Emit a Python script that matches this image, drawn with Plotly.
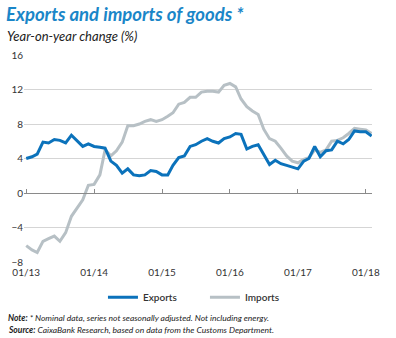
import plotly.graph_objects as go
import pandas as pd

months = pd.date_range("2013-01-01", periods=62, freq="MS")

exports = [4.0, 4.2, 4.5, 5.9, 5.8, 6.2, 6.1, 5.8, 6.7, 6.0, 5.4, 5.7,
           5.4, 5.3, 5.2, 3.7, 3.2, 2.3, 2.8, 2.1, 2.0, 2.1, 2.6, 2.5,
           2.1, 2.1, 3.2, 4.1, 4.3, 5.4, 5.6, 6.0, 6.3, 6.0, 5.8, 6.3,
           6.5, 6.9, 6.8, 5.1, 5.4, 5.6, 4.5, 3.3, 3.8, 3.4, 3.2, 3.0,
           2.8, 3.7, 4.0, 5.4, 4.2, 4.9, 5.0, 6.0, 5.7, 6.2, 7.2, 7.1,
           7.1, 6.6]

imports = [-6.1, -6.6, -6.9, -5.6, -5.3, -5.0, -5.6, -4.6, -2.7, -1.7, -0.8, 0.9,
           1.0, 2.1, 5.0, 4.3, 4.9, 5.9, 7.8, 7.8, 8.0, 8.3, 8.5, 8.3,
           8.5, 8.9, 9.3, 10.3, 10.5, 11.1, 11.1, 11.7, 11.8, 11.8, 11.7, 12.5,
           12.7, 12.3, 10.9, 10.0, 9.5, 9.1, 7.4, 6.3, 6.0, 5.2, 4.3, 3.7,
           3.5, 3.9, 4.1, 5.0, 4.7, 5.0, 6.0, 6.1, 6.4, 6.9, 7.5, 7.4,
           7.3, 6.9]

tick_dates = ["2013-01-01", "2014-01-01", "2015-01-01", "2016-01-01", "2017-01-01", "2018-01-01"]
tick_labels = ["01/13", "01/14", "01/15", "01/16", "01/17", "01/18"]
y_ticks = [-8, -4, 0, 4, 8, 12, 16]

BLUE = "#0b72bb"
GRAY = "#b7c0c5"
FONT = "Lato"

fig = go.Figure()
fig.add_trace(go.Scatter(x=months, y=imports, name="Imports", mode="lines",
                         line=dict(color=GRAY, width=3), legendrank=2))
fig.add_trace(go.Scatter(x=months, y=exports, name="Exports", mode="lines",
                         line=dict(color=BLUE, width=3), legendrank=1))

xr = ["2012-12-20", "2018-02-03"]

fig.update_layout(
    width=396, height=338,
    margin=dict(l=24, r=24, t=55, b=76),
    paper_bgcolor="white", plot_bgcolor="white",
    font=dict(family=FONT, color="#333333", size=10),
    showlegend=True,
    legend=dict(orientation="h", x=0.52, xanchor="center", y=-0.17, yanchor="middle",
                traceorder="normal", font=dict(size=10, color="#333333", weight=600),
                entrywidth=57, entrywidthmode="pixels", tracegroupgap=0),
    xaxis=dict(type="date", range=xr, tickmode="array", tickvals=tick_dates,
               ticktext=tick_labels, showgrid=False, zeroline=False, showline=False,
               ticks="", ticklabelstandoff=3, tickfont=dict(size=10, color="#333333")),
    xaxis2=dict(type="date", range=xr, overlaying="x", anchor="free", position=1/3,
                side="top", showline=True, linecolor="#8a8a8a", linewidth=1.3,
                tickmode="array", tickvals=tick_dates, showticklabels=False,
                ticks="outside", ticklen=4, tickcolor="#8a8a8a", showgrid=False,
                zeroline=False),
    yaxis=dict(range=[-8, 16], tickmode="array", tickvals=y_ticks,
               showgrid=True, gridcolor="#d5d5d5", gridwidth=1, zeroline=False,
               showline=False, ticks="", tickfont=dict(size=10, color="#333333")),
)

# invisible trace to activate xaxis2 (zero line with year ticks)
fig.add_trace(go.Scatter(x=[months[0]], y=[0], xaxis="x2", mode="lines",
                         showlegend=False, hoverinfo="skip",
                         line=dict(color="rgba(0,0,0,0)")))

fig.add_annotation(text="<b><i>Exports and imports of goods *</i></b>", xref="paper", yref="paper",
                   x=-20/348, y=1 + (55 - 14) / 207, xanchor="left", yanchor="middle",
                   showarrow=False, font=dict(size=18.5, color="#1a86c8", family=FONT))
fig.add_annotation(text="<i>Year-on-year change (%)</i>", xref="paper", yref="paper",
                   x=-19/348, y=1 + (55 - 36) / 207, xanchor="left", yanchor="middle",
                   showarrow=False, font=dict(size=13, color="#222222", family=FONT))
fig.add_annotation(text="<b><i>Note:</i></b><i> * Nominal data, series not seasonally adjusted. Not including energy.</i>",
                   xref="paper", yref="paper", x=-18/348, y=-(318 - 262) / 207,
                   xanchor="left", yanchor="middle", showarrow=False,
                   font=dict(size=8.5, color="#222222", family=FONT))
fig.add_annotation(text="<b><i>Source:</i></b><i> CaixaBank Research, based on data from the Customs Department.</i>",
                   xref="paper", yref="paper", x=-18/348, y=-(330 - 262) / 207,
                   xanchor="left", yanchor="middle", showarrow=False,
                   font=dict(size=8.5, color="#222222", family=FONT))

fig.write_html("out.html")
